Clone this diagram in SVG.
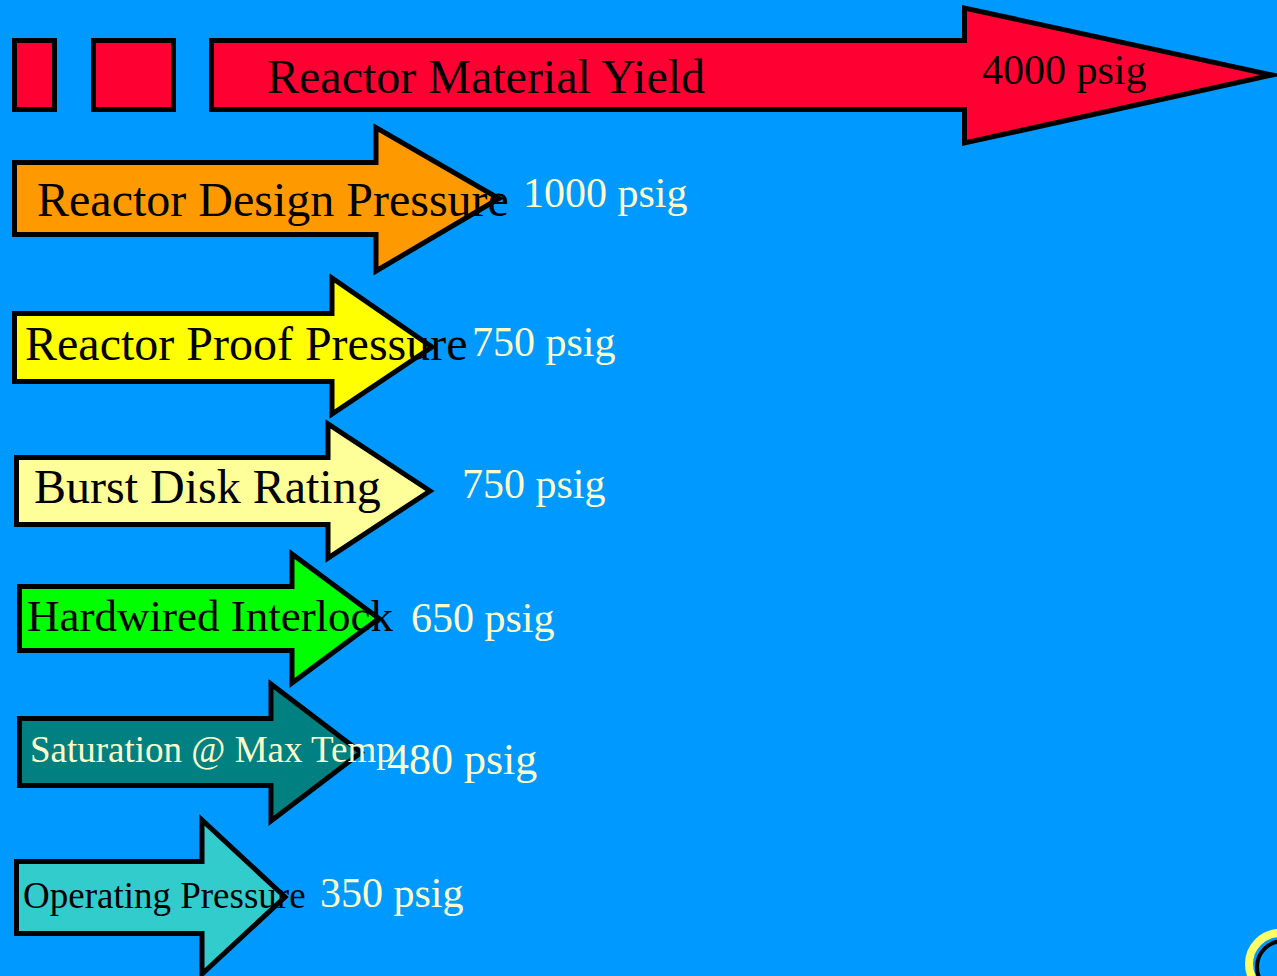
<svg xmlns="http://www.w3.org/2000/svg" width="1277" height="976" viewBox="0 0 1277 976">
  <style>
    .shape { stroke: #000; stroke-width: 5; stroke-linejoin: miter; stroke-miterlimit: 12; }
    .label { font-family: "Liberation Serif", "Times New Roman", serif; fill: #000; }
    .value { font-family: "Liberation Serif", "Times New Roman", serif; fill: #FFFFCC; font-size: 42px; }
  </style>
  <rect width="1277" height="976" fill="#0099FF"/>

  <!-- Material yield: two blocks plus a long arrow -->
  <g id="material-yield">
    <rect class="shape" x="14.5" y="40.5" width="40" height="69" fill="#FF0033"/>
    <rect class="shape" x="93.5" y="40.5" width="80" height="69" fill="#FF0033"/>
    <path class="shape" fill="#FF0033" d="M211.5,40.5 H964.5 V8 L1272,75 L964.5,143 V109.5 H211.5 Z"/>
    <text class="label" x="267" y="93" font-size="48">Reactor Material Yield</text>
    <text class="label" x="982" y="84" font-size="42">4000 psig</text>
  </g>

  <g id="design-pressure">
    <path class="shape" fill="#FF9900" d="M14.5,162.5 H376 V127.5 L499,198.5 L376,271 V234.5 H14.5 Z"/>
    <text class="label" x="37" y="216" font-size="48">Reactor Design Pressure</text>
    <text class="value" x="523" y="207">1000 psig</text>
  </g>

  <g id="proof-pressure">
    <path class="shape" fill="#FFFF00" d="M14.5,313.5 H332 V278 L432,347 L332,414 V381.5 H14.5 Z"/>
    <text class="label" x="25" y="360" font-size="48">Reactor Proof Pressure</text>
    <text class="value" x="472" y="356">750 psig</text>
  </g>

  <g id="burst-disk">
    <path class="shape" fill="#FFFF99" d="M16.5,457.5 H328 V424 L430,491 L328,558 V524.5 H16.5 Z"/>
    <text class="label" x="34" y="503" font-size="48">Burst Disk Rating</text>
    <text class="value" x="462" y="498">750 psig</text>
  </g>

  <g id="hardwired-interlock">
    <path class="shape" fill="#00FF00" d="M19.5,586.5 H292 V554 L379,618.5 L292,683 V650.5 H19.5 Z"/>
    <text class="label" x="27" y="631" font-size="45">Hardwired Interlock</text>
    <text class="value" x="411" y="632">650 psig</text>
  </g>

  <g id="saturation">
    <path class="shape" fill="#008080" d="M19.5,718.5 H271 V684 L361,752.5 L271,821 V785.5 H19.5 Z"/>
    <text class="label" x="30" y="762" font-size="37" style="fill:#FFFFCC">Saturation @ Max Temp</text>
    <text class="value" x="387" y="774" style="font-size:44px">480 psig</text>
  </g>

  <g id="operating-pressure">
    <path class="shape" fill="#33CCCC" d="M16.5,861.5 H202 V820 L285,897 L202,974 V933.5 H16.5 Z"/>
    <text class="label" x="23" y="908" font-size="37">Operating Pressure</text>
    <text class="value" x="320" y="907">350 psig</text>
  </g>

  <!-- ring in the lower-right corner -->
  <g id="corner-ring">
    <circle cx="1280" cy="964" r="31" fill="none" stroke="#FFFF66" stroke-width="8"/>
    <circle cx="1283" cy="967" r="26" fill="none" stroke="#000" stroke-width="4"/>
  </g>

  <g id="connectors"/>
</svg>
